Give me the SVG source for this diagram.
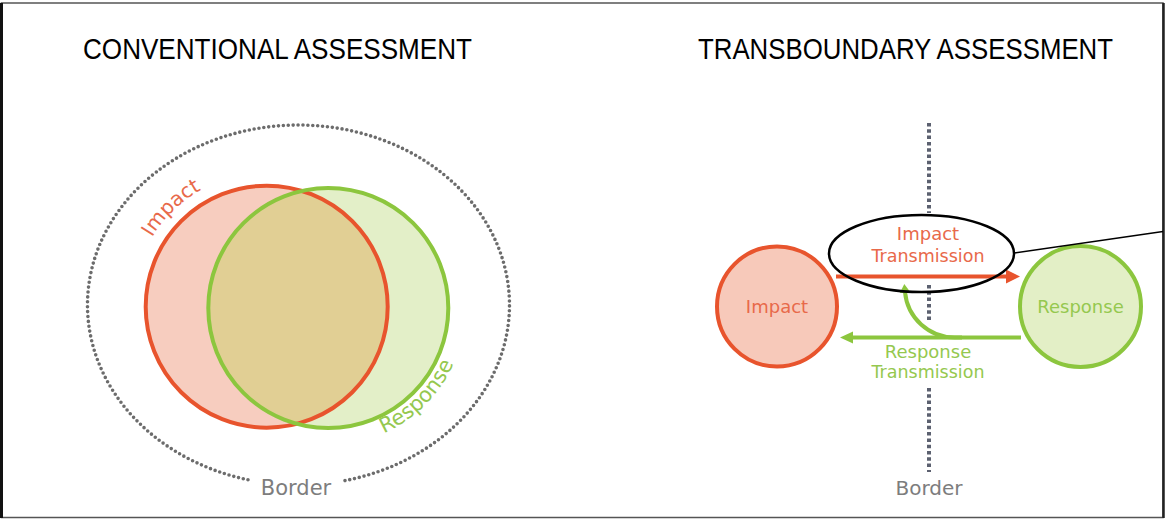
<svg xmlns="http://www.w3.org/2000/svg" width="1166" height="519" viewBox="0 0 1166 519">
  <defs>
    <style>
      .title { font-family: "Liberation Sans", Arial, sans-serif; font-size: 29px; fill: #000; }
      .lbl { font-family: "DejaVu Sans", "Noto Sans", sans-serif; }
      .red-t { fill: #e8694a; }
      .green-t { fill: #95c84f; }
      .grey-t { fill: #7d7d7d; }
      .red-s { stroke: #e8542d; }
      .green-s { stroke: #8cc63e; }
      .dots-round { fill: none; stroke: #6c6c6c; stroke-width: 3.6; stroke-linecap: round; stroke-dasharray: 0 4.9; }
      .dots-square { fill: none; stroke: #5c6170; stroke-width: 4; stroke-dasharray: 3.5 2.8; }
    </style>
    <marker id="head-red" markerUnits="userSpaceOnUse" markerWidth="16" markerHeight="16" refX="1" refY="7.5" orient="auto">
      <path d="M0,0.5 L14,7.5 L0,14.5 z" fill="#e8542d"/>
    </marker>
    <marker id="head-green" markerUnits="userSpaceOnUse" markerWidth="16" markerHeight="16" refX="1" refY="7" orient="auto">
      <path d="M0,1 L13,7 L0,13 z" fill="#8cc63e"/>
    </marker>
    <marker id="head-green-small" markerUnits="userSpaceOnUse" markerWidth="14" markerHeight="14" refX="1" refY="6" orient="auto">
      <path d="M0,0.5 L9,6 L0,11.5 z" fill="#8cc63e"/>
    </marker>
    <clipPath id="clip-impact">
      <circle cx="266.7" cy="306.7" r="121"/>
    </clipPath>
    <!-- baselines for the curved circle labels -->
    <path id="arc-impact" d="M 132.7 306.7 A 134 134 0 0 1 266.7 172.7"/>
    <path id="arc-response" d="M 328.3 445 A 137 137 0 0 0 465.3 308"/>
  </defs>

  <!-- outer frame -->
  <g id="frame">
    <rect x="1.5" y="3" width="1161.5" height="514.5" fill="#fff" stroke="#555" stroke-width="1.5"/>
    <line x1="1.5" y1="3" x2="1.5" y2="518" stroke="#111" stroke-width="3"/>
    <line x1="1163.5" y1="3" x2="1163.5" y2="518" stroke="#222" stroke-width="2.5"/>
  </g>

  <!-- headings -->
  <g id="titles">
    <text class="title" x="83" y="59" textLength="389" lengthAdjust="spacingAndGlyphs">CONVENTIONAL ASSESSMENT</text>
    <text class="title" x="698" y="59" textLength="415" lengthAdjust="spacingAndGlyphs">TRANSBOUNDARY ASSESSMENT</text>
  </g>

  <!-- conventional: shared border around overlapping circles -->
  <g id="conv-border">
    <path class="dots-round" d="M 345 480.6 A 211 180 0 1 0 248 479.8"/>
    <text class="lbl grey-t" x="296" y="495" font-size="21" text-anchor="middle">Border</text>
  </g>

  <g id="conv-impact">
    <circle cx="266.7" cy="306.7" r="121" fill="#f7cdbf"/>
  </g>
  <g id="conv-response">
    <circle cx="328.3" cy="308" r="120" fill="#e3efc8"/>
  </g>
  <g id="conv-overlap">
    <circle cx="328.3" cy="308" r="120" fill="#e1cf94" clip-path="url(#clip-impact)"/>
    <circle cx="266.7" cy="306.7" r="121" fill="none" class="red-s" stroke-width="4"/>
    <circle cx="328.3" cy="308" r="120" fill="none" class="green-s" stroke-width="4"/>
  </g>
  <g id="conv-labels">
    <text class="lbl red-t" font-size="20"><textPath href="#arc-impact" startOffset="51%" text-anchor="middle">Impact</textPath></text>
    <text class="lbl green-t" font-size="21"><textPath href="#arc-response" startOffset="50%" text-anchor="middle">Response</textPath></text>
  </g>

  <!-- transboundary: border line crossing the transmission paths -->
  <g id="tb-border">
    <line class="dots-square" x1="929" y1="123" x2="929" y2="213"/>
    <line class="dots-square" x1="929" y1="285" x2="929" y2="322"/>
    <line class="dots-square" x1="929" y1="388" x2="929" y2="472"/>
    <text class="lbl grey-t" x="929" y="495" font-size="20" text-anchor="middle">Border</text>
  </g>

  <g id="tb-impact">
    <circle cx="777" cy="306.5" r="60" fill="#f7c9ba" class="red-s" stroke-width="4"/>
    <text class="lbl red-t" x="777" y="313" font-size="18" text-anchor="middle">Impact</text>
  </g>

  <g id="tb-response">
    <circle cx="1080.5" cy="306.5" r="60.5" fill="#e3efc6" class="green-s" stroke-width="4"/>
    <text class="lbl green-t" x="1080.5" y="313" font-size="18" text-anchor="middle">Response</text>
  </g>

  <g id="connectors" fill="none" stroke-width="4">
    <line class="red-s" x1="836" y1="276.5" x2="1007" y2="276.5" marker-end="url(#head-red)"/>
    <line class="green-s" x1="1021" y1="337.5" x2="852" y2="337.5" marker-end="url(#head-green)"/>
    <path class="green-s" d="M 962 337.5 L 955 337.5 A 50 50 0 0 1 905 292" marker-end="url(#head-green-small)"/>
  </g>

  <g id="tb-labels">
    <text class="lbl red-t" x="928" y="240" font-size="18" text-anchor="middle">Impact</text>
    <text class="lbl red-t" x="928" y="261.5" font-size="17.5" text-anchor="middle">Transmission</text>
    <text class="lbl green-t" x="928" y="358" font-size="18" text-anchor="middle">Response</text>
    <text class="lbl green-t" x="928" y="378" font-size="17.5" text-anchor="middle">Transmission</text>
  </g>

  <!-- callout highlighting the impact transmission -->
  <g id="callout" fill="none" stroke="#000">
    <ellipse cx="921.5" cy="253.5" rx="92.5" ry="38.5" stroke-width="2.5"/>
    <line x1="1014" y1="253" x2="1163" y2="231.5" stroke-width="1.5"/>
  </g>
</svg>
